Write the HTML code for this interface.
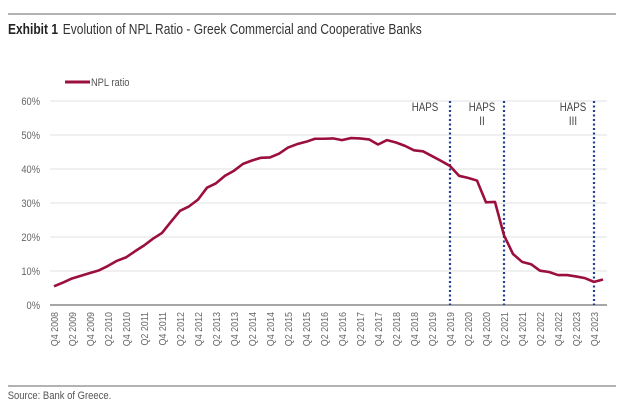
<!DOCTYPE html>
<html><head><meta charset="utf-8"><style>
body{margin:0;background:#fff;}
svg{display:block;font-family:"Liberation Sans",sans-serif;}
</style></head><body>
<svg id="chart" width="624" height="407" viewBox="0 0 624 407">
<line x1="8" y1="14" x2="616" y2="14" stroke="#666" stroke-width="1"/>
<text x="10" y="34" font-size="15" fill="#222" transform="scale(0.80,1)"><tspan font-weight="bold">Exhibit 1</tspan><tspan dx="6" fill="#333">Evolution of NPL Ratio - Greek Commercial and Cooperative Banks</tspan></text>
<g id="grid"></g>
<g id="haps"></g>
<g id="xlabels"></g>
<line x1="65" y1="82" x2="90" y2="82" stroke="#9b0f3d" stroke-width="3"/>
<text x="107" y="86" font-size="11" fill="#555" transform="scale(0.85,1)">NPL ratio</text>
<path id="line" fill="none" stroke="#9b0f3d" stroke-width="2.6" stroke-linejoin="round"/>
<line x1="8" y1="386" x2="616" y2="386" stroke="#666" stroke-width="1"/>
<text x="9" y="399" font-size="11" fill="#555" transform="scale(0.86,1)">Source: Bank of Greece.</text>
</svg>
<script>
const yTicks=[0,10,20,30,40,50,60];
const values=[5.5,
6.6,7.8,8.6,9.4,
10.2,11.5,13.0,14.0,
15.8,17.5,19.5,21.2,
24.5,27.7,29.0,31.0,
34.5,35.8,38.0,39.5,
41.5,42.5,43.3,43.4,
44.5,46.3,47.3,48.0,
48.9,48.9,49.0,48.5,
49.1,49.0,48.7,47.2,
48.5,47.8,46.8,45.5,
45.2,43.8,42.4,40.9,
38.0,37.4,36.6,30.2,
30.3,20.5,15.0,12.7,
12.0,10.1,9.7,8.8,
8.8,8.4,7.9,6.8,
7.5];
const hapsIdx=[44,50,60];
const hapsLabels=[["HAPS"],["HAPS","II"],["HAPS","III"]];
const hapsLabelX=[-25,-22,-21];
const NS="http://www.w3.org/2000/svg";
const x=i=>54+i*9;
const y=v=>305-v*3.4;
function mk(tag,attrs,parent){const e=document.createElementNS(NS,tag);for(const k in attrs)e.setAttribute(k,attrs[k]);parent.appendChild(e);return e;}
const grid=document.getElementById('grid');
yTicks.forEach(t=>{
  if(t>0){const g=mk('line',{x1:50,x2:607,y1:y(t),y2:y(t),stroke:'#e2e2e2','stroke-width':1},grid);
  
  }
  const tx=mk('text',{x:40/0.85,y:y(t)+4,'font-size':11,fill:'#666','text-anchor':'end',transform:'scale(0.85,1)'},grid);
  tx.textContent=t+'%';
  
  
});
const ax=mk('line',{x1:50,x2:607,y1:305,y2:305,stroke:'#888','stroke-width':1.5},grid);


const xl=document.getElementById('xlabels');
for(let i=0;i<values.length;i+=2){
  const q=(i%4===0)?'Q4':'Q2';
  const yr=2008+Math.floor((i+3)/4);
  const t=mk('text',{transform:`translate(${x(i)+4},312) rotate(-90) scale(0.85,1)`,'font-size':10.5,fill:'#666','text-anchor':'end'},xl);
  t.textContent=q+' '+yr;
  
  
}
const hg=document.getElementById('haps');
hapsIdx.forEach((idx,k)=>{
  const l=mk('line',{x1:x(idx),x2:x(idx),y1:101,y2:305,stroke:'#1f3f8f','stroke-width':2.2,'stroke-dasharray':'2,2.5'},hg);
  
  
  hapsLabels[k].forEach((s,j)=>{
    const t=mk('text',{x:(x(idx)+hapsLabelX[k])/0.85,y:111+j*14,'font-size':11.5,fill:'#444','text-anchor':'middle',transform:'scale(0.85,1)'},hg);
    t.textContent=s;
    
    
  });
});
document.getElementById('line').setAttribute('d',values.map((v,i)=>(i?'L':'M')+x(i)+','+y(v)).join(''));
</script>
</body></html>
